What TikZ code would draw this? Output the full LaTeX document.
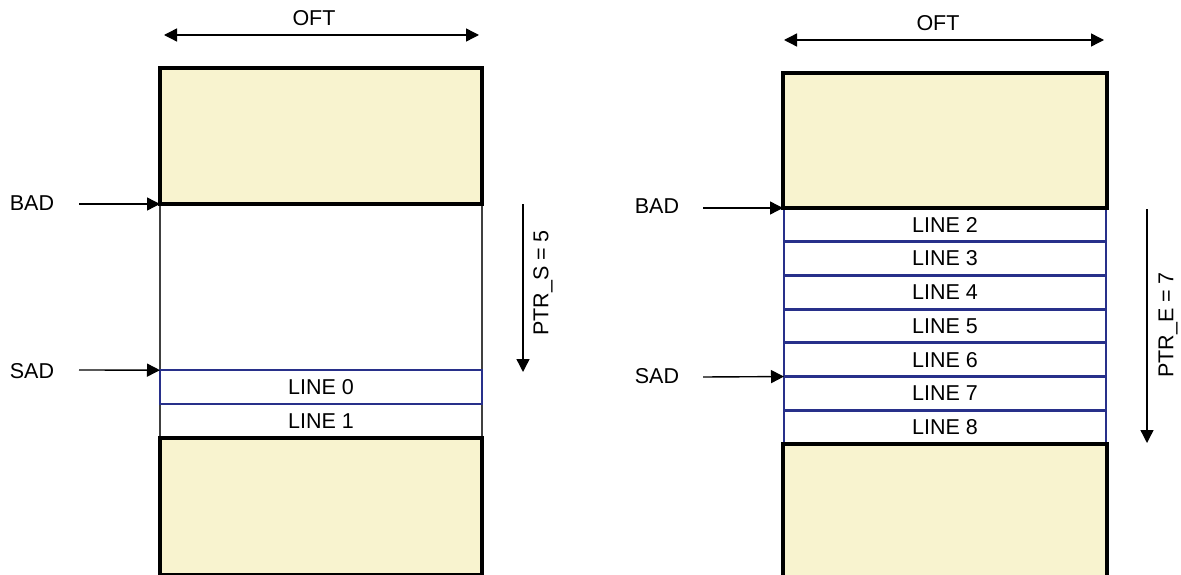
\documentclass[tikz,border=0pt]{standalone}
\usepackage{fontspec}
\setmainfont{Liberation Sans}
\usepackage{xcolor}
\usepackage{tikz}
\usetikzlibrary{arrows.meta,positioning}

\definecolor{memyellow}{RGB}{248,243,207}
\definecolor{lineblue}{RGB}{40,48,138}
\newcommand{\lblfont}{\fontsize{21.5}{24}\selectfont}

\begin{document}
\begin{tikzpicture}[
        x=1pt, y=-1pt,
        area/.style={draw, line width=3.2pt, fill=memyellow, minimum width=322pt, inner sep=0pt, outer sep=0pt},
        gap/.style={draw=black!75, line width=2.2pt, fill=white, minimum width=322pt, inner sep=0pt, outer sep=0pt},
        row/.style={draw=lineblue, line width=2.4pt, fill=white, minimum width=322pt, minimum height=33.7pt, inner sep=0pt, outer sep=0pt, font=\lblfont},
        lbl/.style={inner sep=0pt, font=\lblfont},
        ptr/.style={line width=1.4pt},
        >={Triangle[length=13pt,width=13pt]}
    ]
        \useasboundingbox (0,0) rectangle (1181,575);

        % left buffer
        \node[gap, minimum height=166pt] (lgap) at (321,287) {};
        \node[row, draw=black!75] (line1) at (321,421) {LINE 1};
        \node[row] (line0) at (321,387) {LINE 0};
        \node[area, minimum height=136pt] (ltop) at (321,136) {};
        \node[area, minimum height=137pt] (lbot) at (321,506.5) {};

        \coordinate (loftA) at (164,35);
        \coordinate (loftB) at (479,35);
        \draw[ptr,<->] (loftA) -- (loftB);
        \node[lbl] (loft) at (314,18) {OFT};

        \node[lbl] (lbad) at (32,203) {BAD};
        \coordinate (lbadtail) at (79,204);
        \draw[ptr,->] (lbadtail) -- (ltop.south west);
        \node[lbl] (lsad) at (32,371) {SAD};
        \coordinate (lsadtail) at (79,370);
        \draw[ptr,->] (lsadtail) -- (line0.north west);

        \coordinate (lptrA) at (523,204);
        \coordinate (lptrB) at (523,372);
        \draw[ptr,->] (lptrA) -- (lptrB);
        \node[lbl, rotate=90] (lptr) at (543,283) {PTR\_S = 5};

        % right buffer
        \foreach \i in {2,...,8}
            \node[row, line width=2.8pt] (r\i) at (945,{208+(\i-2)*33.71+16.86}) {LINE \i};
        \node[area, minimum width=324pt, minimum height=135pt] (rtop) at (945,140.5) {};
        \node[area, minimum width=324pt, minimum height=136pt] (rbot) at (945,512) {};

        \coordinate (roftA) at (784,40);
        \coordinate (roftB) at (1104,40);
        \draw[ptr,<->] (roftA) -- (roftB);
        \node[lbl] (roft) at (938,23) {OFT};

        \node[lbl] (rbad) at (657,206) {BAD};
        \coordinate (rbadtail) at (703,208);
        \draw[ptr,->] (rbadtail) -- (rtop.south west);
        \node[lbl] (rsad) at (657,376) {SAD};
        \coordinate (rsadtail) at (703,377);
        \draw[ptr,->] (rsadtail) -- (r6.south west);

        \coordinate (rptrA) at (1147,209);
        \coordinate (rptrB) at (1147,443);
        \draw[ptr,->] (rptrA) -- (rptrB);
        \node[lbl, rotate=90] (rptr) at (1168,325) {PTR\_E = 7};
    \end{tikzpicture}
\end{document}
